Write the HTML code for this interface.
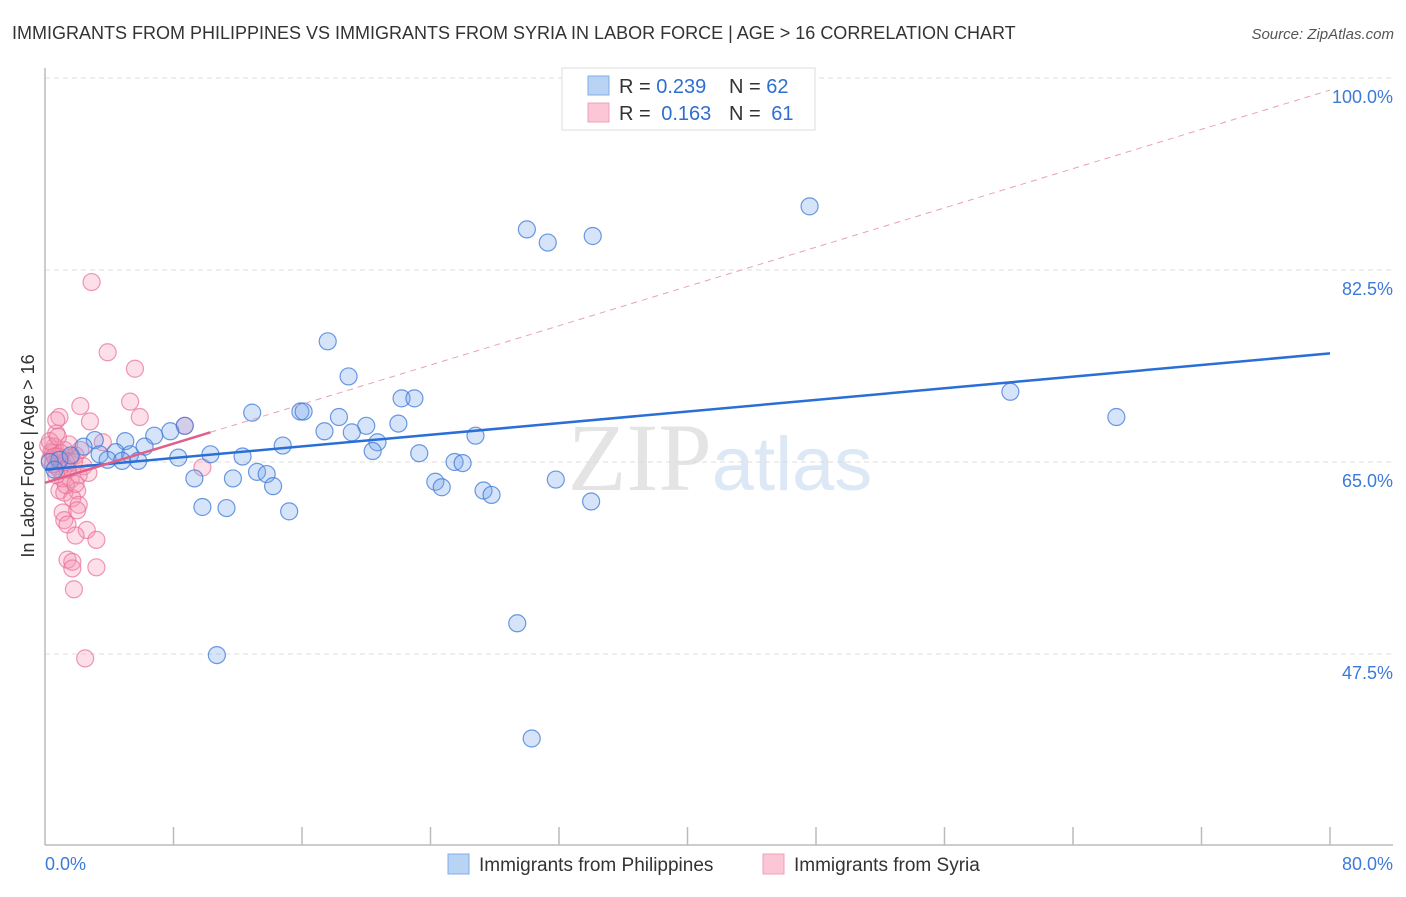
<!DOCTYPE html>
<html><head><meta charset="utf-8"><style>
body{margin:0;background:#fff;font-family:"Liberation Sans",sans-serif;}
svg text{font-family:"Liberation Sans",sans-serif;}
</style></head><body>
<svg id="chart" width="1406" height="892" xmlns="http://www.w3.org/2000/svg">
<text x="12" y="39" font-size="18" fill="#333">IMMIGRANTS FROM PHILIPPINES VS IMMIGRANTS FROM SYRIA IN LABOR FORCE | AGE &gt; 16 CORRELATION CHART</text>
<text x="1394" y="39" font-size="15" fill="#555" text-anchor="end" font-style="italic">Source: ZipAtlas.com</text>
<text x="720" y="490" font-size="96" fill="#e8eef6" text-anchor="middle"><tspan fill="#e4e4e4" font-family="Liberation Serif">ZIP</tspan><tspan font-size="76" fill="#dce8f6">atlas</tspan></text>
<g id="grid"></g>
<g id="axes"></g>
<g id="marks"></g>
<text transform="translate(34,456) rotate(-90)" font-size="18" fill="#333" text-anchor="middle">In Labor Force | Age &gt; 16</text>
<g>
<rect x="562" y="68" width="253" height="62" fill="#fff" stroke="#ddd"/>
<rect x="588" y="76" width="21" height="19" fill="#b9d3f5" stroke="#80aee8"/>
<rect x="588" y="103" width="21" height="19" fill="#fbc6d5" stroke="#f0a0b8"/>
<text x="619" y="93" font-size="20" fill="#333">R = <tspan fill="#2f6fd0">0.239</tspan></text>
<text x="729" y="93" font-size="20" fill="#333">N = <tspan fill="#2f6fd0">62</tspan></text>
<text x="619" y="120" font-size="20" fill="#333">R = <tspan fill="#2f6fd0" dx="5">0.163</tspan></text>
<text x="729" y="120" font-size="20" fill="#333">N = <tspan fill="#2f6fd0" dx="5">61</tspan></text>
</g>
<g>
<rect x="448" y="854" width="21" height="20" fill="#b9d3f5" stroke="#80aee8"/>
<text x="479" y="871" font-size="19" fill="#333">Immigrants from Philippines</text>
<rect x="763" y="854" width="21" height="20" fill="#fbc6d5" stroke="#f0a0b8"/>
<text x="794" y="871" font-size="19" fill="#333">Immigrants from Syria</text>
</g>
</svg>
<script>
const yTicks=[47.5,65.0,82.5,100.0];
const yTickLabels=["47.5%","65.0%","82.5%","100.0%"];
const xTickLabels=["0.0%","80.0%"];
const blueX=[47.6,30.0,31.3,34.1,17.6,18.9,22.2,23.0,60.1,66.7,12.9,15.9,16.1,18.3,20.0,19.1,17.4,22.0,8.7,7.8,6.8,20.7,20.4,26.8,14.8,6.2,5.0,3.1,2.4,3.4,4.4,5.3,3.9,4.8,5.8,8.3,10.3,12.3,13.2,13.8,14.2,11.7,9.3,9.8,11.3,15.2,23.3,25.5,26.0,24.3,24.7,27.3,27.8,31.8,34.0,29.4,10.7,30.3,0.9,1.6,0.3,0.6];
const blueY=[88.3,86.2,85.0,85.6,76.0,72.8,70.8,70.8,71.4,69.1,69.5,69.6,69.6,69.1,68.3,67.7,67.8,68.5,68.3,67.8,67.4,66.8,66.0,67.4,66.5,66.4,66.9,67.0,66.4,65.7,65.9,65.7,65.2,65.1,65.1,65.4,65.7,65.5,64.1,63.9,62.8,63.5,63.5,60.9,60.8,60.5,65.8,65.0,64.9,63.2,62.7,62.4,62.0,63.4,61.4,50.3,47.4,39.8,65.2,65.6,65.0,64.3];
const pinkX=[2.9,3.9,5.6,2.2,0.9,2.8,5.3,5.9,0.7,8.7,9.8,3.6,0.5,0.6,0.4,0.8,0.3,1.1,0.7,1.2,1.6,0.2,0.9,1.9,2.2,1.6,2.0,0.9,1.2,1.7,2.1,1.1,2.0,1.2,1.4,2.6,1.9,3.2,1.4,1.7,1.7,3.2,1.8,2.5,0.7,1.1,1.4,1.8,2.1,1.3,0.7,1.0,0.5,1.5,2.4,0.3,1.9,2.7,0.8,1.3,0.6];
const pinkY=[81.4,75.0,73.5,70.1,69.1,68.7,70.5,69.1,67.6,68.3,64.5,66.8,65.8,66.4,65.9,65.5,65.2,64.9,64.6,66.1,65.4,66.5,64.3,65.6,66.1,63.4,62.4,62.4,62.2,61.7,61.1,60.4,60.6,59.7,59.3,58.8,58.3,57.9,56.1,55.9,55.3,55.4,53.4,47.1,68.8,63.5,64.3,65.0,63.8,62.9,63.8,65.8,64.8,66.6,64.6,66.9,63.0,64.0,67.3,65.0,65.5];
const blueTrend=[64.3,74.9];   // y at x=0 and x=80
const pinkTrend=[63.1,98.9];   // y at x=0 and x=80
const pinkSolidEnd=10.3;
const NS="http://www.w3.org/2000/svg";
const X0=45,X1=1330,Ytop=78,Y65=462;
function sx(v){return X0+(X1-X0)*v/80;}
function sy(v){return Y65-(v-65)*(192/17.5);}
function mk(tag,attrs,parent){const e=document.createElementNS(NS,tag);for(const k in attrs)e.setAttribute(k,attrs[k]);parent.appendChild(e);return e;}
const grid=document.getElementById('grid'),axes=document.getElementById('axes'),marks=document.getElementById('marks');
yTicks.forEach((t,i)=>{
  const l=mk('line',{x1:X0,x2:1393,y1:sy(t),y2:sy(t),stroke:'#ddd','stroke-dasharray':'5,4'},grid);
  
  
  const tx=mk('text',{x:1393,y:sy(t)+25,'font-size':18,fill:'#3d7ad8','text-anchor':'end'},axes);
  tx.textContent=yTickLabels[i];
  
  
});
const ya=mk('line',{x1:X0,x2:X0,y1:68,y2:845,stroke:'#bbb','stroke-width':1.5},axes);


const xa=mk('line',{x1:X0,x2:1393,y1:845,y2:845,stroke:'#bbb','stroke-width':1.5},axes);


for(let i=1;i<=10;i++){
  const t=mk('line',{x1:sx(i*8),x2:sx(i*8),y1:827,y2:845,stroke:'#bbb','stroke-width':1.5},axes);
  
  
}
const xl0=mk('text',{x:45,y:870,'font-size':18,fill:'#3d7ad8'},axes);xl0.textContent=xTickLabels[0];


const xl1=mk('text',{x:1393,y:870,'font-size':18,fill:'#3d7ad8','text-anchor':'end'},axes);xl1.textContent=xTickLabels[1];


function dots(xs,ys,fill,stroke,name){xs.forEach((x,i)=>{const c=mk('circle',{cx:sx(x),cy:sy(ys[i]),r:8.5,fill:fill,stroke:stroke,'stroke-width':1.2},marks);
  
  });}
dots(pinkX,pinkY,'rgba(245,150,180,0.3)','rgba(232,110,150,0.7)','syria-point');
dots(blueX,blueY,'rgba(120,165,235,0.3)','rgba(60,120,215,0.75)','philippines-point');
function ty(tr,x){return tr[0]+(tr[1]-tr[0])*x/80;}
const pd=mk('line',{x1:sx(pinkSolidEnd),y1:sy(ty(pinkTrend,pinkSolidEnd)),x2:sx(80),y2:sy(pinkTrend[1]),stroke:'#e9a0b8','stroke-width':1,'stroke-dasharray':'6,5'},marks);


const bl=mk('line',{x1:sx(0),y1:sy(blueTrend[0]),x2:sx(80),y2:sy(blueTrend[1]),stroke:'#2a6fd6','stroke-width':2.5},marks);


const pl=mk('line',{x1:sx(0),y1:sy(pinkTrend[0]),x2:sx(pinkSolidEnd),y2:sy(ty(pinkTrend,pinkSolidEnd)),stroke:'#e0608a','stroke-width':2.5},marks);


</script>
</body></html>
